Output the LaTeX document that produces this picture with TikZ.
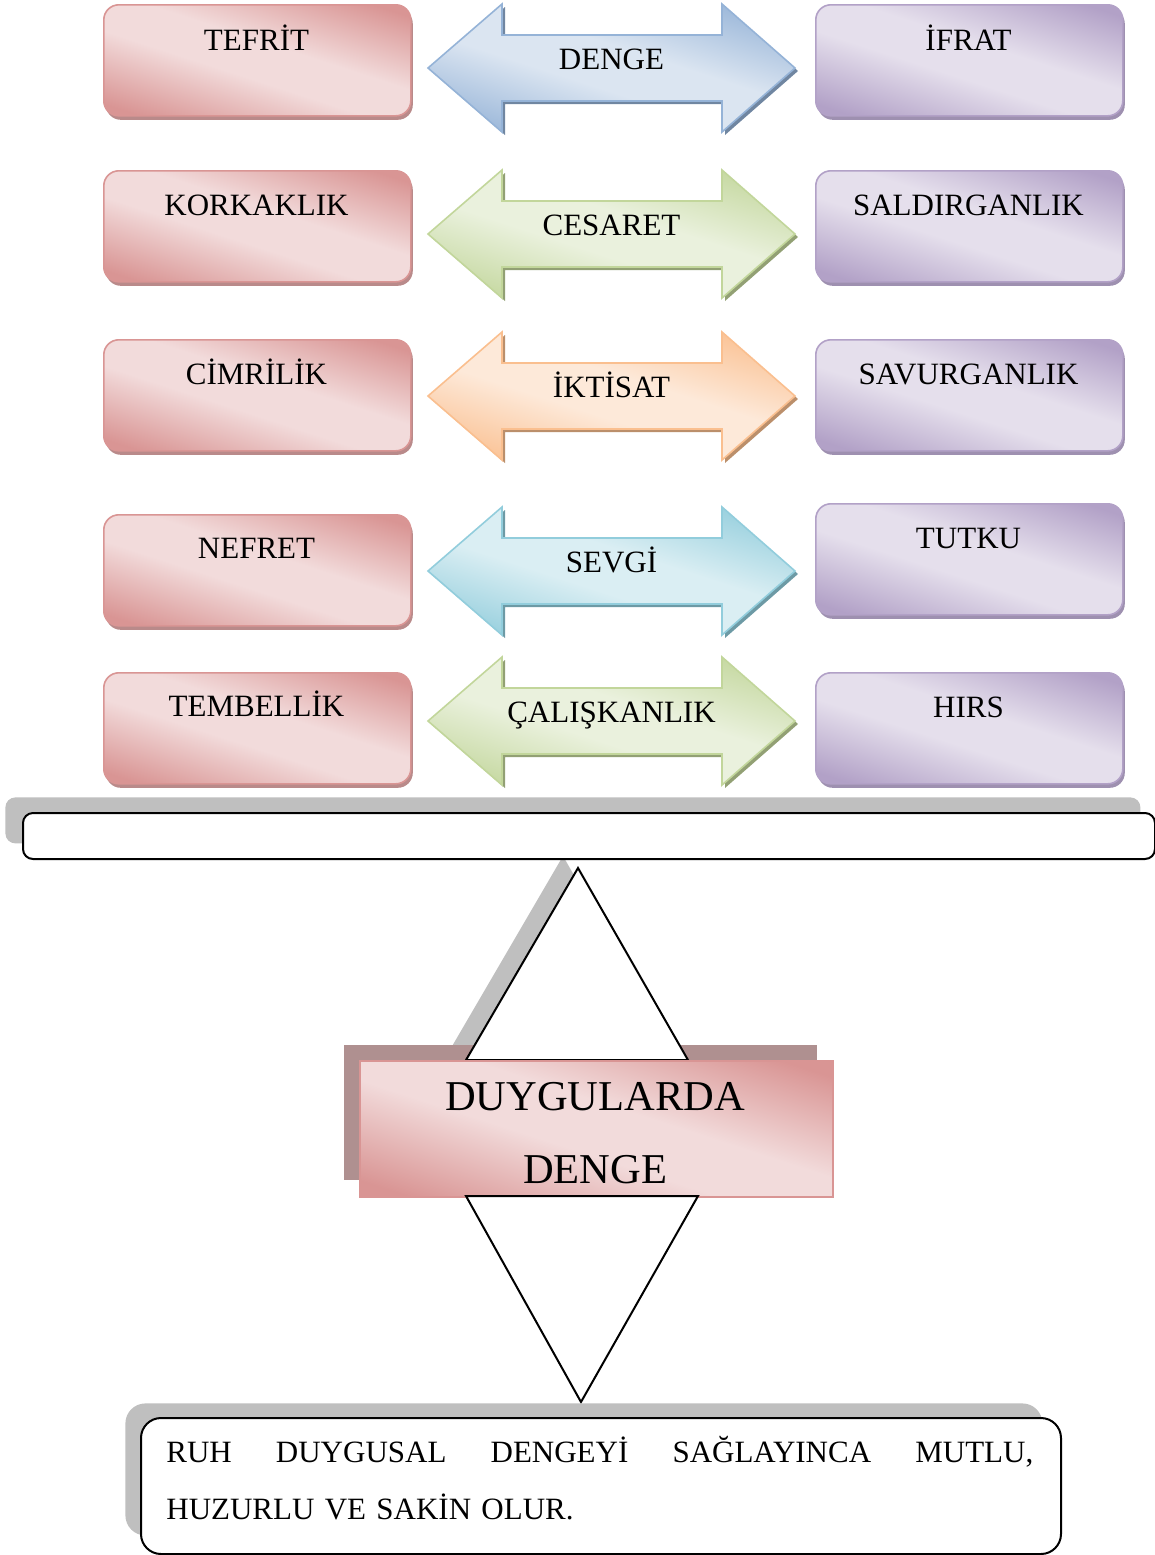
\documentclass[tikz,border=0pt]{standalone}
\usepackage{fontspec}
\setmainfont{Liberation Serif}
\definecolor{redD}{HTML}{D99594}
\definecolor{redL}{HTML}{F2DBDB}
\definecolor{redS}{HTML}{B98A8A}
\definecolor{purD}{HTML}{B2A1C7}
\definecolor{purL}{HTML}{E5DFEC}
\definecolor{purS}{HTML}{9E90B0}
\definecolor{bluD}{HTML}{95B3D7}
\definecolor{bluL}{HTML}{DBE5F1}
\definecolor{grnD}{HTML}{C2D69B}
\definecolor{grnL}{HTML}{EAF1DD}
\definecolor{orD}{HTML}{FABF8F}
\definecolor{orL}{HTML}{FDE9D9}
\definecolor{cyD}{HTML}{92CDDC}
\definecolor{cyL}{HTML}{DAEEF3}
\definecolor{shgray}{HTML}{BFBFBF}
\definecolor{mauve}{HTML}{AF9090}
\newcommand\mkshade[3]{\pgfdeclareverticalshading{#1}{100bp}{color(0bp)=(#2); color(22bp)=(#2); color(44bp)=(#3); color(56bp)=(#3); color(78bp)=(#2); color(100bp)=(#2)}}
\mkshade{shred}{redD}{redL}
\mkshade{shpur}{purD}{purL}
\mkshade{shblu}{bluD}{bluL}
\mkshade{shgrn}{grnD}{grnL}
\mkshade{shor}{orD}{orL}
\mkshade{shcy}{cyD}{cyL}
\tikzset{
  boxbase/.style={rounded corners=7.5pt, minimum width=153.5pt, minimum height=55.5pt, anchor=north west, inner sep=0pt, line width=0.8pt},
  redbox/.style={boxbase, draw=redD, shading=shred, shading angle=-18},
  purbox/.style={boxbase, draw=purD, shading=shpur, shading angle=-18},
  redshade/.style={boxbase, fill=redS},
  purshade/.style={boxbase, fill=purS},
  lbl/.style={font=\fontsize{15.5}{18}\selectfont, inner sep=0pt, anchor=base},
  plainrect/.style={anchor=north west, inner sep=0pt},
  outline/.style={draw=black, line width=1pt, fill=white},
}
\newcommand\dblarrow[4]{%
  \fill[#2D!75!black] (431,#1+3) -- (505,#1-61) -- (505,#1-30) -- (725,#1-30) -- (725,#1-61) -- (798,#1+3) -- (725,#1+67) -- (725,#1+36) -- (505,#1+36) -- (505,#1+67) -- cycle;
  \draw[draw=#2D, line width=0.8pt, shading=sh#2, shading angle=-18] (428,#1) -- (502,#1-64) -- (502,#1-33) -- (722,#1-33) -- (722,#1-64) -- (795,#1) -- (722,#1+64) -- (722,#1+33) -- (502,#1+33) -- (502,#1+64) -- cycle;
  \node[lbl] (#4) at (611.5,#1+1) {#3};
}
\newcommand\leftbox[4]{% top, baseline, text, name
  \node[redshade] at (105,#1+4) {};
  \node[redbox] (#4) at (103,#1) {};
  \node[lbl] (#4t) at (256.5,#2) {#3};
}
\newcommand\rightbox[4]{%
  \node[purshade] at (817,#1+4) {};
  \node[purbox] (#4) at (815,#1) {};
  \node[lbl] (#4t) at (968.5,#2) {#3};
}
\begin{document}
\begin{tikzpicture}[x=0.5pt,y=-0.5pt]
\useasboundingbox (0,0) rectangle (1155,1555);
% rows
\leftbox{4}{50}{TEFRİT}{l1}
\rightbox{4}{50}{İFRAT}{r1}
\dblarrow{68}{blu}{DENGE}{a1}
\leftbox{170}{215}{KORKAKLIK}{l2}
\rightbox{170}{215}{SALDIRGANLIK}{r2}
\dblarrow{234}{grn}{CESARET}{a2}
\leftbox{339}{384}{CİMRİLİK}{l3}
\rightbox{339}{384}{SAVURGANLIK}{r3}
\dblarrow{396}{or}{İKTİSAT}{a3}
\leftbox{514}{558}{NEFRET}{l4}
\rightbox{503}{548}{TUTKU}{r4}
\dblarrow{571}{cy}{SEVGİ}{a4}
\leftbox{672}{716}{TEMBELLİK}{l5}
\rightbox{672}{717}{HIRS}{r5}
\dblarrow{721}{grn}{ÇALIŞKANLIK}{a5}
% triangle shadow
\fill[shgray] (563,856) -- (451,1048) -- (673,1048) -- cycle;
% beam
\node[plainrect, fill=shgray, rounded corners=5pt, minimum width=567.5pt, minimum height=23pt] (beamsh) at (5,797) {};
\node[plainrect, outline, rounded corners=5pt, minimum width=566pt, minimum height=23pt] (beam) at (22,812) {};
% centre block
\node[plainrect, fill=mauve, minimum width=236.5pt, minimum height=67.5pt] (ddsh) at (344,1045) {};
\draw[outline] (578,868) -- (466,1060) -- (688,1060) -- cycle;
\node[plainrect, draw=redD, line width=0.8pt, shading=shred, shading angle=-18, minimum width=236.5pt, minimum height=68pt] (dd) at (359,1060) {};
\node[anchor=base, inner sep=0pt, text width=230pt, align=center, font=\fontsize{21.25}{36.5}\selectfont] (ddt) at (595,1110) {DUYGULARDA\\DENGE};
\draw[outline] (466,1196) -- (698,1196) -- (581,1402) -- cycle;
% bottom box
\node[plainrect, fill=shgray, rounded corners=10pt, minimum width=458.5pt, minimum height=66pt] (botsh) at (125,1403) {};
\node[plainrect, outline, rounded corners=10pt, minimum width=460pt, minimum height=68pt] (bot) at (140,1417) {};
\node[anchor=base west, inner sep=0pt, text width=433.5pt, align=left, font=\fontsize{15.5}{28.5}\selectfont] (bott) at (166,1462) {RUH\hfill DUYGUSAL\hfill DENGEYİ\hfill SAĞLAYINCA\hfill MUTLU,\\HUZURLU VE SAKİN OLUR.};
\end{tikzpicture}
\end{document}
